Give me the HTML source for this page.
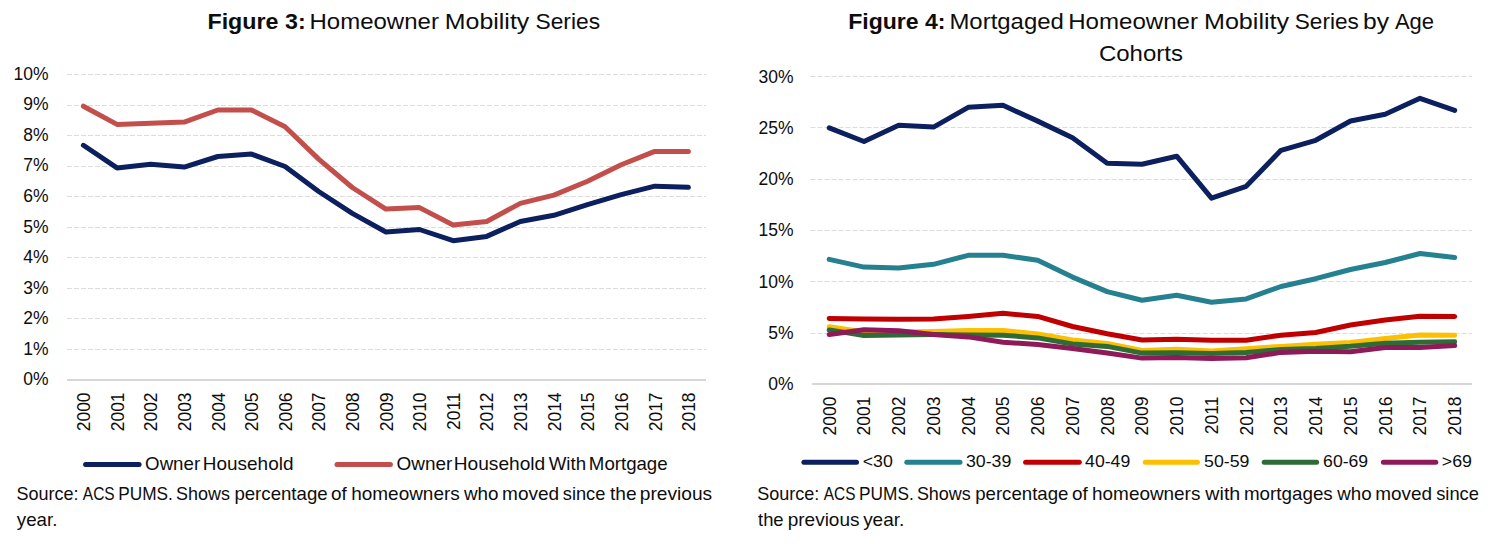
<!DOCTYPE html><html><head><meta charset="utf-8"><title>Figures</title><style>html,body{margin:0;padding:0;background:#fff;}svg{display:block;}text{font-family:'Liberation Sans', Arial, sans-serif;fill:#0d0d0d;}</style></head><body>
<svg width="1488" height="544" viewBox="0 0 1488 544">
<rect width="1488" height="544" fill="#fff"/>
<line x1="67.0" y1="74.5" x2="706.0" y2="74.5" stroke="#dcdcdc" stroke-width="1" stroke-dasharray="5 2"/>
<line x1="67.0" y1="105.5" x2="706.0" y2="105.5" stroke="#dcdcdc" stroke-width="1" stroke-dasharray="5 2"/>
<line x1="67.0" y1="135.5" x2="706.0" y2="135.5" stroke="#dcdcdc" stroke-width="1" stroke-dasharray="5 2"/>
<line x1="67.0" y1="166.5" x2="706.0" y2="166.5" stroke="#dcdcdc" stroke-width="1" stroke-dasharray="5 2"/>
<line x1="67.0" y1="196.5" x2="706.0" y2="196.5" stroke="#dcdcdc" stroke-width="1" stroke-dasharray="5 2"/>
<line x1="67.0" y1="227.5" x2="706.0" y2="227.5" stroke="#dcdcdc" stroke-width="1" stroke-dasharray="5 2"/>
<line x1="67.0" y1="257.5" x2="706.0" y2="257.5" stroke="#dcdcdc" stroke-width="1" stroke-dasharray="5 2"/>
<line x1="67.0" y1="288.5" x2="706.0" y2="288.5" stroke="#dcdcdc" stroke-width="1" stroke-dasharray="5 2"/>
<line x1="67.0" y1="318.5" x2="706.0" y2="318.5" stroke="#dcdcdc" stroke-width="1" stroke-dasharray="5 2"/>
<line x1="67.0" y1="349.5" x2="706.0" y2="349.5" stroke="#dcdcdc" stroke-width="1" stroke-dasharray="5 2"/>
<line x1="67.0" y1="380" x2="706.0" y2="380" stroke="#d6d6d6" stroke-width="2"/>
<line x1="810.5" y1="76.5" x2="1472.0" y2="76.5" stroke="#dcdcdc" stroke-width="1" stroke-dasharray="5 2"/>
<line x1="810.5" y1="127.5" x2="1472.0" y2="127.5" stroke="#dcdcdc" stroke-width="1" stroke-dasharray="5 2"/>
<line x1="810.5" y1="179.5" x2="1472.0" y2="179.5" stroke="#dcdcdc" stroke-width="1" stroke-dasharray="5 2"/>
<line x1="810.5" y1="230.5" x2="1472.0" y2="230.5" stroke="#dcdcdc" stroke-width="1" stroke-dasharray="5 2"/>
<line x1="810.5" y1="281.5" x2="1472.0" y2="281.5" stroke="#dcdcdc" stroke-width="1" stroke-dasharray="5 2"/>
<line x1="810.5" y1="333.5" x2="1472.0" y2="333.5" stroke="#dcdcdc" stroke-width="1" stroke-dasharray="5 2"/>
<line x1="812" y1="384" x2="1472.0" y2="384" stroke="#d6d6d6" stroke-width="2"/>
<text x="48.6" y="385.1" font-size="17.5" text-anchor="end">0%</text>
<text x="48.6" y="354.6" font-size="17.5" text-anchor="end">1%</text>
<text x="48.6" y="324.0" font-size="17.5" text-anchor="end">2%</text>
<text x="48.6" y="293.5" font-size="17.5" text-anchor="end">3%</text>
<text x="48.6" y="263.0" font-size="17.5" text-anchor="end">4%</text>
<text x="48.6" y="232.5" font-size="17.5" text-anchor="end">5%</text>
<text x="48.6" y="201.9" font-size="17.5" text-anchor="end">6%</text>
<text x="48.6" y="171.4" font-size="17.5" text-anchor="end">7%</text>
<text x="48.6" y="140.9" font-size="17.5" text-anchor="end">8%</text>
<text x="48.6" y="110.3" font-size="17.5" text-anchor="end">9%</text>
<text x="48.6" y="79.8" font-size="17.5" text-anchor="end">10%</text>
<text x="793.6" y="390.2" font-size="17.5" text-anchor="end">0%</text>
<text x="793.6" y="338.9" font-size="17.5" text-anchor="end">5%</text>
<text x="793.6" y="287.6" font-size="17.5" text-anchor="end">10%</text>
<text x="793.6" y="236.3" font-size="17.5" text-anchor="end">15%</text>
<text x="793.6" y="185.1" font-size="17.5" text-anchor="end">20%</text>
<text x="793.6" y="133.8" font-size="17.5" text-anchor="end">25%</text>
<text x="793.6" y="82.5" font-size="17.5" text-anchor="end">30%</text>
<text transform="translate(90.1,392.4) rotate(-90)" font-size="17.5" text-anchor="end">2000</text>
<text transform="translate(835.6,396.6) rotate(-90)" font-size="17.5" text-anchor="end">2000</text>
<text transform="translate(123.7,392.4) rotate(-90)" font-size="17.5" text-anchor="end">2001</text>
<text transform="translate(870.4,396.6) rotate(-90)" font-size="17.5" text-anchor="end">2001</text>
<text transform="translate(157.3,392.4) rotate(-90)" font-size="17.5" text-anchor="end">2002</text>
<text transform="translate(905.1,396.6) rotate(-90)" font-size="17.5" text-anchor="end">2002</text>
<text transform="translate(190.9,392.4) rotate(-90)" font-size="17.5" text-anchor="end">2003</text>
<text transform="translate(939.9,396.6) rotate(-90)" font-size="17.5" text-anchor="end">2003</text>
<text transform="translate(224.5,392.4) rotate(-90)" font-size="17.5" text-anchor="end">2004</text>
<text transform="translate(974.6,396.6) rotate(-90)" font-size="17.5" text-anchor="end">2004</text>
<text transform="translate(258.2,392.4) rotate(-90)" font-size="17.5" text-anchor="end">2005</text>
<text transform="translate(1009.4,396.6) rotate(-90)" font-size="17.5" text-anchor="end">2005</text>
<text transform="translate(291.8,392.4) rotate(-90)" font-size="17.5" text-anchor="end">2006</text>
<text transform="translate(1044.1,396.6) rotate(-90)" font-size="17.5" text-anchor="end">2006</text>
<text transform="translate(325.4,392.4) rotate(-90)" font-size="17.5" text-anchor="end">2007</text>
<text transform="translate(1078.9,396.6) rotate(-90)" font-size="17.5" text-anchor="end">2007</text>
<text transform="translate(359.0,392.4) rotate(-90)" font-size="17.5" text-anchor="end">2008</text>
<text transform="translate(1113.6,396.6) rotate(-90)" font-size="17.5" text-anchor="end">2008</text>
<text transform="translate(392.6,392.4) rotate(-90)" font-size="17.5" text-anchor="end">2009</text>
<text transform="translate(1148.4,396.6) rotate(-90)" font-size="17.5" text-anchor="end">2009</text>
<text transform="translate(426.2,392.4) rotate(-90)" font-size="17.5" text-anchor="end">2010</text>
<text transform="translate(1183.1,396.6) rotate(-90)" font-size="17.5" text-anchor="end">2010</text>
<text transform="translate(459.8,392.4) rotate(-90)" font-size="17.5" text-anchor="end">2011</text>
<text transform="translate(1217.9,396.6) rotate(-90)" font-size="17.5" text-anchor="end">2011</text>
<text transform="translate(493.4,392.4) rotate(-90)" font-size="17.5" text-anchor="end">2012</text>
<text transform="translate(1252.6,396.6) rotate(-90)" font-size="17.5" text-anchor="end">2012</text>
<text transform="translate(527.0,392.4) rotate(-90)" font-size="17.5" text-anchor="end">2013</text>
<text transform="translate(1287.4,396.6) rotate(-90)" font-size="17.5" text-anchor="end">2013</text>
<text transform="translate(560.6,392.4) rotate(-90)" font-size="17.5" text-anchor="end">2014</text>
<text transform="translate(1322.1,396.6) rotate(-90)" font-size="17.5" text-anchor="end">2014</text>
<text transform="translate(594.2,392.4) rotate(-90)" font-size="17.5" text-anchor="end">2015</text>
<text transform="translate(1356.9,396.6) rotate(-90)" font-size="17.5" text-anchor="end">2015</text>
<text transform="translate(627.9,392.4) rotate(-90)" font-size="17.5" text-anchor="end">2016</text>
<text transform="translate(1391.6,396.6) rotate(-90)" font-size="17.5" text-anchor="end">2016</text>
<text transform="translate(661.5,392.4) rotate(-90)" font-size="17.5" text-anchor="end">2017</text>
<text transform="translate(1426.4,396.6) rotate(-90)" font-size="17.5" text-anchor="end">2017</text>
<text transform="translate(695.1,392.4) rotate(-90)" font-size="17.5" text-anchor="end">2018</text>
<text transform="translate(1461.1,396.6) rotate(-90)" font-size="17.5" text-anchor="end">2018</text>
<polyline points="83.4,145.3 117.0,167.9 150.6,164.3 184.2,167.1 217.8,156.5 251.5,154.1 285.1,166.5 318.7,191.5 352.3,213.4 385.9,232.0 419.5,229.5 453.1,240.7 486.7,236.4 520.3,221.5 553.9,215.3 587.5,204.6 621.2,194.7 654.8,186.2 688.4,187.3" fill="none" stroke="#0c1f5e" stroke-width="5" stroke-linejoin="round" stroke-linecap="round"/>
<polyline points="83.4,106.2 117.0,124.4 150.6,123.2 184.2,122.1 217.8,110.0 251.5,110.0 285.1,126.8 318.7,159.1 352.3,187.5 385.9,209.1 419.5,207.6 453.1,225.0 486.7,221.5 520.3,203.4 553.9,195.1 587.5,181.3 621.2,164.8 654.8,151.4 688.4,151.4" fill="none" stroke="#c24f4b" stroke-width="5" stroke-linejoin="round" stroke-linecap="round"/>
<polyline points="829.2,127.8 864.0,141.5 898.7,125.3 933.5,127.1 968.2,107.3 1003.0,105.3 1037.7,121.1 1072.5,137.8 1107.2,163.2 1142.0,164.2 1176.7,156.2 1211.5,198.2 1246.2,186.3 1281.0,150.3 1315.7,140.3 1350.5,121.0 1385.2,114.3 1420.0,98.3 1454.7,110.4" fill="none" stroke="#0c1f5e" stroke-width="5" stroke-linejoin="round" stroke-linecap="round"/>
<polyline points="829.2,259.4 864.0,267.1 898.7,268.1 933.5,264.3 968.2,255.3 1003.0,255.3 1037.7,260.2 1072.5,277.1 1107.2,291.6 1142.0,300.2 1176.7,295.2 1211.5,302.2 1246.2,298.9 1281.0,286.5 1315.7,278.7 1350.5,269.5 1385.2,262.5 1420.0,253.5 1454.7,257.5" fill="none" stroke="#25808f" stroke-width="5" stroke-linejoin="round" stroke-linecap="round"/>
<polyline points="829.2,318.4 864.0,319.1 898.7,319.3 933.5,319.1 968.2,316.5 1003.0,313.3 1037.7,316.4 1072.5,326.5 1107.2,333.7 1142.0,340.0 1176.7,339.3 1211.5,340.3 1246.2,340.3 1281.0,335.2 1315.7,332.5 1350.5,325.0 1385.2,320.1 1420.0,316.2 1454.7,316.5" fill="none" stroke="#c00000" stroke-width="5" stroke-linejoin="round" stroke-linecap="round"/>
<polyline points="829.2,326.8 864.0,332.0 898.7,332.0 933.5,331.5 968.2,330.6 1003.0,330.4 1037.7,334.0 1072.5,340.0 1107.2,343.4 1142.0,350.5 1176.7,349.3 1211.5,351.0 1246.2,348.7 1281.0,346.4 1315.7,344.3 1350.5,342.5 1385.2,338.5 1420.0,334.9 1454.7,335.3" fill="none" stroke="#fcc000" stroke-width="5" stroke-linejoin="round" stroke-linecap="round"/>
<polyline points="829.2,329.9 864.0,335.5 898.7,335.0 933.5,334.6 968.2,334.9 1003.0,335.2 1037.7,337.9 1072.5,344.0 1107.2,346.4 1142.0,353.1 1176.7,352.7 1211.5,353.5 1246.2,352.4 1281.0,349.5 1315.7,348.5 1350.5,346.3 1385.2,343.2 1420.0,342.2 1454.7,341.8" fill="none" stroke="#2e6b37" stroke-width="5" stroke-linejoin="round" stroke-linecap="round"/>
<polyline points="829.2,334.4 864.0,329.8 898.7,330.8 933.5,334.5 968.2,336.9 1003.0,342.2 1037.7,344.4 1072.5,348.4 1107.2,353.1 1142.0,358.1 1176.7,357.5 1211.5,358.6 1246.2,357.8 1281.0,352.4 1315.7,351.3 1350.5,351.8 1385.2,347.6 1420.0,347.4 1454.7,345.6" fill="none" stroke="#8e1a5a" stroke-width="5" stroke-linejoin="round" stroke-linecap="round"/>
<text x="207.44" y="28.9" font-size="21.8" font-weight="bold" textLength="98.19" lengthAdjust="spacingAndGlyphs">Figure 3:</text>
<text x="309.53" y="28.9" font-size="21.8" textLength="129.37" lengthAdjust="spacingAndGlyphs">Homeowner</text>
<text x="444.86" y="28.9" font-size="21.8" textLength="84.39" lengthAdjust="spacingAndGlyphs">Mobility</text>
<text x="535.47" y="28.9" font-size="21.8" textLength="64.56" lengthAdjust="spacingAndGlyphs">Series</text>
<text x="848.16" y="28.6" font-size="21.8" font-weight="bold" textLength="97.36" lengthAdjust="spacingAndGlyphs">Figure 4:</text>
<text x="949.44" y="28.6" font-size="21.8" textLength="114.41" lengthAdjust="spacingAndGlyphs">Mortgaged</text>
<text x="1068.23" y="28.6" font-size="21.8" textLength="129.77" lengthAdjust="spacingAndGlyphs">Homeowner</text>
<text x="1203.94" y="28.6" font-size="21.8" textLength="85.21" lengthAdjust="spacingAndGlyphs">Mobility</text>
<text x="1294.77" y="28.6" font-size="21.8" textLength="64.04" lengthAdjust="spacingAndGlyphs">Series</text>
<text x="1363.11" y="28.6" font-size="21.8" textLength="26.04" lengthAdjust="spacingAndGlyphs">by</text>
<text x="1394.96" y="28.6" font-size="21.8" textLength="39.12" lengthAdjust="spacingAndGlyphs">Age</text>
<text x="1098.98" y="60.9" font-size="21.8" textLength="83.98" lengthAdjust="spacingAndGlyphs">Cohorts</text>
<text x="145.12" y="470" font-size="18.6" textLength="54.99" lengthAdjust="spacingAndGlyphs">Owner</text>
<text x="202.85" y="470" font-size="18.6" textLength="90.58" lengthAdjust="spacingAndGlyphs">Household</text>
<text x="396.50" y="470" font-size="18.6" textLength="55.81" lengthAdjust="spacingAndGlyphs">Owner</text>
<text x="453.73" y="470" font-size="18.6" textLength="91.50" lengthAdjust="spacingAndGlyphs">Household</text>
<text x="548.72" y="470" font-size="18.6" textLength="37.40" lengthAdjust="spacingAndGlyphs">With</text>
<text x="588.87" y="470" font-size="18.6" textLength="78.76" lengthAdjust="spacingAndGlyphs">Mortgage</text>
<text x="862.73" y="467.2" font-size="17.2" textLength="30.07" lengthAdjust="spacingAndGlyphs">&lt;30</text>
<text x="965.92" y="467.2" font-size="17.2" textLength="45.42" lengthAdjust="spacingAndGlyphs">30-39</text>
<text x="1085.09" y="467.2" font-size="17.2" textLength="45.14" lengthAdjust="spacingAndGlyphs">40-49</text>
<text x="1204.09" y="467.2" font-size="17.2" textLength="45.35" lengthAdjust="spacingAndGlyphs">50-59</text>
<text x="1323.11" y="467.2" font-size="17.2" textLength="45.03" lengthAdjust="spacingAndGlyphs">60-69</text>
<text x="1441.82" y="467.2" font-size="17.2" textLength="30.22" lengthAdjust="spacingAndGlyphs">&gt;69</text>
<text x="16.48" y="500.2" font-size="18.6" textLength="62.06" lengthAdjust="spacingAndGlyphs">Source:</text>
<text x="82.87" y="500.2" font-size="18.6" textLength="31.84" lengthAdjust="spacingAndGlyphs">ACS</text>
<text x="118.29" y="500.2" font-size="18.6" textLength="54.59" lengthAdjust="spacingAndGlyphs">PUMS.</text>
<text x="176.08" y="500.2" font-size="18.6" textLength="53.97" lengthAdjust="spacingAndGlyphs">Shows</text>
<text x="234.40" y="500.2" font-size="18.6" textLength="93.23" lengthAdjust="spacingAndGlyphs">percentage</text>
<text x="331.11" y="500.2" font-size="18.6" textLength="15.77" lengthAdjust="spacingAndGlyphs">of</text>
<text x="351.29" y="500.2" font-size="18.6" textLength="108.40" lengthAdjust="spacingAndGlyphs">homeowners</text>
<text x="463.93" y="500.2" font-size="18.6" textLength="34.56" lengthAdjust="spacingAndGlyphs">who</text>
<text x="502.14" y="500.2" font-size="18.6" textLength="56.99" lengthAdjust="spacingAndGlyphs">moved</text>
<text x="562.79" y="500.2" font-size="18.6" textLength="42.62" lengthAdjust="spacingAndGlyphs">since</text>
<text x="610.01" y="500.2" font-size="18.6" textLength="26.64" lengthAdjust="spacingAndGlyphs">the</text>
<text x="639.87" y="500.2" font-size="18.6" textLength="72.33" lengthAdjust="spacingAndGlyphs">previous</text>
<text x="16.85" y="525.8" font-size="18.6" textLength="40.55" lengthAdjust="spacingAndGlyphs">year.</text>
<text x="757.28" y="500.2" font-size="18.6" textLength="62.06" lengthAdjust="spacingAndGlyphs">Source:</text>
<text x="823.87" y="500.2" font-size="18.6" textLength="31.64" lengthAdjust="spacingAndGlyphs">ACS</text>
<text x="859.09" y="500.2" font-size="18.6" textLength="54.59" lengthAdjust="spacingAndGlyphs">PUMS.</text>
<text x="916.88" y="500.2" font-size="18.6" textLength="53.97" lengthAdjust="spacingAndGlyphs">Shows</text>
<text x="975.20" y="500.2" font-size="18.6" textLength="93.23" lengthAdjust="spacingAndGlyphs">percentage</text>
<text x="1071.91" y="500.2" font-size="18.6" textLength="15.77" lengthAdjust="spacingAndGlyphs">of</text>
<text x="1092.09" y="500.2" font-size="18.6" textLength="108.30" lengthAdjust="spacingAndGlyphs">homeowners</text>
<text x="1205.33" y="500.2" font-size="18.6" textLength="34.95" lengthAdjust="spacingAndGlyphs">with</text>
<text x="1243.95" y="500.2" font-size="18.6" textLength="88.83" lengthAdjust="spacingAndGlyphs">mortgages</text>
<text x="1337.33" y="500.2" font-size="18.6" textLength="34.36" lengthAdjust="spacingAndGlyphs">who</text>
<text x="1375.34" y="500.2" font-size="18.6" textLength="56.78" lengthAdjust="spacingAndGlyphs">moved</text>
<text x="1436.19" y="500.2" font-size="18.6" textLength="42.72" lengthAdjust="spacingAndGlyphs">since</text>
<text x="758.02" y="525.5" font-size="18.6" textLength="25.60" lengthAdjust="spacingAndGlyphs">the</text>
<text x="787.68" y="525.5" font-size="18.6" textLength="71.81" lengthAdjust="spacingAndGlyphs">previous</text>
<text x="863.15" y="525.5" font-size="18.6" textLength="41.08" lengthAdjust="spacingAndGlyphs">year.</text>
<line x1="85.6" y1="464.4" x2="139.1" y2="464.4" stroke="#0c1f5e" stroke-width="5" stroke-linecap="round"/>
<line x1="337.0" y1="464.4" x2="390.4" y2="464.4" stroke="#c24f4b" stroke-width="5" stroke-linecap="round"/>
<line x1="803.9" y1="462.3" x2="856.5" y2="462.3" stroke="#0c1f5e" stroke-width="5" stroke-linecap="round"/>
<line x1="906.8" y1="462.3" x2="960.0" y2="462.3" stroke="#25808f" stroke-width="5" stroke-linecap="round"/>
<line x1="1025.6" y1="462.3" x2="1079.3" y2="462.3" stroke="#c00000" stroke-width="5" stroke-linecap="round"/>
<line x1="1145.3" y1="462.3" x2="1197.4" y2="462.3" stroke="#fcc000" stroke-width="5" stroke-linecap="round"/>
<line x1="1264.2" y1="462.3" x2="1316.6" y2="462.3" stroke="#2e6b37" stroke-width="5" stroke-linecap="round"/>
<line x1="1383.4" y1="462.3" x2="1435.8" y2="462.3" stroke="#8e1a5a" stroke-width="5" stroke-linecap="round"/>
</svg></body></html>
